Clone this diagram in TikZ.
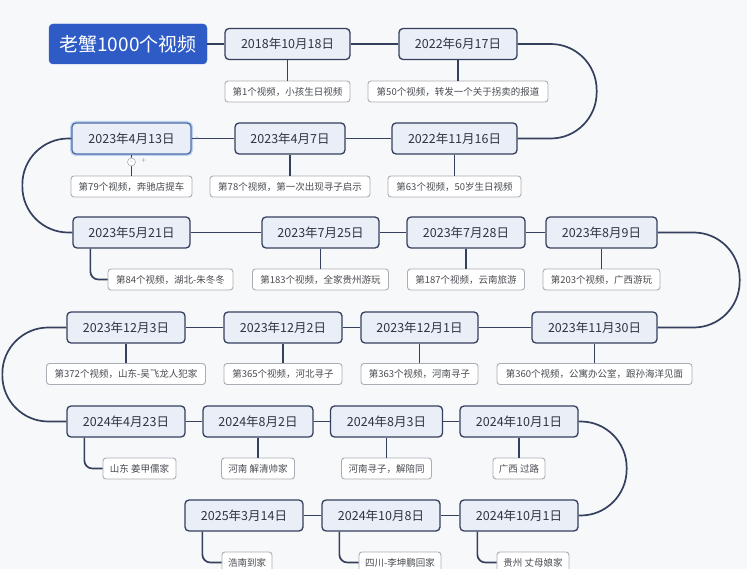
\documentclass[tikz,border=0pt]{standalone}
\usepackage{fontspec}
\setmainfont{Noto Sans CJK SC}
\definecolor{navy}{HTML}{34405E}
\definecolor{datefill}{HTML}{EAEEF7}
\definecolor{notegray}{HTML}{A9ADB5}
\definecolor{notetext}{HTML}{474A50}
\definecolor{datetext}{HTML}{2E3440}
\definecolor{titleblue}{HTML}{2E5BC6}
\definecolor{bgcol}{HTML}{F7F8FA}
\definecolor{glow}{HTML}{BCD3F0}
\definecolor{selborder}{HTML}{4E6BA6}
\tikzset{
  datebox/.style={draw=navy, line width=1.3pt, fill=datefill, rounded corners=4pt,
    minimum height=31pt, inner sep=0pt, text=datetext, font=\fontsize{12.5}{13}\selectfont},
  notebox/.style={draw=notegray, line width=0.9pt, fill=white, rounded corners=3pt,
    minimum height=21pt, inner sep=0pt, text=notetext, font=\fontsize{9.5}{10}\selectfont},
  link/.style={draw=navy, line width=1.7pt},
  elbow/.style={link, rounded corners=8pt},
}
\begin{document}
\begin{tikzpicture}[x=1pt,y=-1pt]
\useasboundingbox (0,0) rectangle (747,569);
\fill[bgcol] (0,0) rectangle (747,569);

% title
\node[draw=titleblue, fill=titleblue, rounded corners=4pt, minimum width=158pt, minimum height=40pt,
  inner sep=0pt, text=white, font=\fontsize{19}{20}\selectfont] (title) at (128,44) {老蟹1000个视频};

% date nodes
\node[datebox, minimum width=125pt] (d1) at (287.5,44) {2018年10月18日};
\node[datebox, minimum width=118pt] (d2) at (458,44) {2022年6月17日};
\node[datebox, minimum width=125pt] (d3) at (454.5,138.5) {2022年11月16日};
\node[datebox, minimum width=110pt] (d4) at (290,138.5) {2023年4月7日};
\node[datebox, minimum width=119pt, draw=selborder, preaction={draw=glow, line width=4pt}] (d5) at (131.5,138.5) {2023年4月13日};
\node[datebox, minimum width=117pt] (d6) at (131.5,232.5) {2023年5月21日};
\node[datebox, minimum width=117pt] (d7) at (320.5,232.5) {2023年7月25日};
\node[datebox, minimum width=118pt] (d8) at (466,232.5) {2023年7月28日};
\node[datebox, minimum width=111pt] (d9) at (601.5,232.5) {2023年8月9日};
\node[datebox, minimum width=125pt] (d10) at (594.5,327.5) {2023年11月30日};
\node[datebox, minimum width=117pt] (d11) at (419.5,327.5) {2023年12月1日};
\node[datebox, minimum width=118pt] (d12) at (283,327.5) {2023年12月2日};
\node[datebox, minimum width=118pt] (d13) at (126,327.5) {2023年12月3日};
\node[datebox, minimum width=118pt] (d14) at (126,421.5) {2024年4月23日};
\node[datebox, minimum width=110pt] (d15) at (258,421.5) {2024年8月2日};
\node[datebox, minimum width=112pt] (d16) at (386.5,421.5) {2024年8月3日};
\node[datebox, minimum width=118pt] (d17) at (519,421.5) {2024年10月1日};
\node[datebox, minimum width=118pt] (d18) at (519,515.5) {2024年10月1日};
\node[datebox, minimum width=118pt] (d19) at (381,515.5) {2024年10月8日};
\node[datebox, minimum width=118pt] (d20) at (244,515.5) {2025年3月14日};

% note nodes
\node[notebox, minimum width=125pt] (n1) at (287.5,91.5) {第1个视频，小孩生日视频};
\node[notebox, minimum width=180pt] (n2) at (458,91.5) {第50个视频，转发一个关于拐卖的报道};
\node[notebox, minimum width=133pt] (n3) at (454.5,186.5) {第63个视频，50岁生日视频};
\node[notebox, minimum width=160pt] (n4) at (290,186.5) {第78个视频，第一次出现寻子启示};
\node[notebox, minimum width=121pt] (n5) at (131.5,186.5) {第79个视频，奔驰店提车};
\node[notebox, minimum width=125pt] (n6) at (170.5,279.5) {第84个视频，湖北-朱冬冬};
\node[notebox, minimum width=136pt] (n7) at (320.5,279.5) {第183个视频，全家贵州游玩};
\node[notebox, minimum width=117pt] (n8) at (466,279.5) {第187个视频，云南旅游};
\node[notebox, minimum width=117pt] (n9) at (601.5,279.5) {第203个视频，广西游玩};
\node[notebox, minimum width=195pt] (n10) at (594.5,374) {第360个视频，公寓办公室，跟孙海洋见面};
\node[notebox, minimum width=117pt] (n11) at (419.5,374) {第363个视频，河南寻子};
\node[notebox, minimum width=118pt] (n12) at (283,374) {第365个视频，河北寻子};
\node[notebox, minimum width=159pt] (n13) at (126,374) {第372个视频，山东-吴飞龙人犯家};
\node[notebox, minimum width=73pt] (n14) at (139.5,468.5) {山东 姜甲儒家};
\node[notebox, minimum width=73pt] (n15) at (258,468.5) {河南 解清帅家};
\node[notebox, minimum width=90pt] (n16) at (386.5,468.5) {河南寻子，解陪同};
\node[notebox, minimum width=52pt] (n17) at (519,468.5) {广西 过路};
\node[notebox, minimum width=72pt] (n18) at (533,562.5) {贵州 丈母娘家};
\node[notebox, minimum width=82pt] (n19) at (400,562.5) {四川-李坤鹏回家};
\node[notebox, minimum width=50pt] (n20) at (247,562.5) {浩南到家};

% main chain
\draw[link] (title.east) -- (d1.west);
\draw[link] (d1.east) -- (d2.west);
\draw[link, rounded corners=46pt] (d2.east) -- ++(79,0) |- (d3.east);
\draw[link] (d3.west) -- (d4.east);
\draw[link] (d4.west) -- (d5.east);
\draw[link, rounded corners=46pt] (d5.west) -- ++(-49,0) |- (d6.west);
\draw[link] (d6.east) -- (d7.west);
\draw[link] (d7.east) -- (d8.west);
\draw[link] (d8.east) -- (d9.west);
\draw[link, rounded corners=46pt] (d9.east) -- ++(82,0) |- (d10.east);
\draw[link] (d10.west) -- (d11.east);
\draw[link] (d11.west) -- (d12.east);
\draw[link] (d12.west) -- (d13.east);
\draw[link, rounded corners=46pt] (d13.west) -- ++(-64,0) |- (d14.west);
\draw[link] (d14.east) -- (d15.west);
\draw[link] (d15.east) -- (d16.west);
\draw[link] (d16.east) -- (d17.west);
\draw[link, rounded corners=46pt] (d17.east) -- ++(48,0) |- (d18.east);
\draw[link] (d18.west) -- (d19.east);
\draw[link] (d19.west) -- (d20.east);

% date to note links
\draw[link] (d1.south) -- (n1.north);
\draw[link] (d2.south) -- (n2.north);
\draw[link] (d3.south) -- (n3.north);
\draw[link] (d4.south) -- (n4.north);
\draw[link] (d5.south) -- (n5.north);
\draw[elbow] ([xshift=18pt]d6.south west) |- (n6.west);
\draw[link] (d7.south) -- (n7.north);
\draw[link] (d8.south) -- (n8.north);
\draw[link] (d9.south) -- (n9.north);
\draw[link] (d10.south) -- (n10.north);
\draw[link] (d11.south) -- (n11.north);
\draw[link] (d12.south) -- (n12.north);
\draw[link] (d13.south) -- (n13.north);
\draw[elbow] ([xshift=18pt]d14.south west) |- (n14.west);
\draw[link] (d15.south) -- (n15.north);
\draw[link] (d16.south) -- (n16.north);
\draw[link] (d17.south) -- (n17.north);
\draw[elbow] ([xshift=18pt]d18.south west) |- (n18.west);
\draw[elbow] ([xshift=18pt]d19.south west) |- (n19.west);
\draw[elbow] ([xshift=18pt]d20.south west) |- (n20.west);

% selection controls on 2023年4月13日
\node[circle, draw=notegray, fill=white, line width=0.6pt, inner sep=0pt, minimum size=8pt,
  text=notegray, font=\fontsize{7}{7}\selectfont] (m5) at (131.5,162) {-};
\node[text=notegray, inner sep=0pt, font=\fontsize{8}{8}\selectfont] (p5) at (143.5,161) {+};
\node[text=glow!70!selborder, inner sep=0pt, font=\fontsize{6}{6}\selectfont] (q5) at (197,138.5) {+};
\end{tikzpicture}
\end{document}
